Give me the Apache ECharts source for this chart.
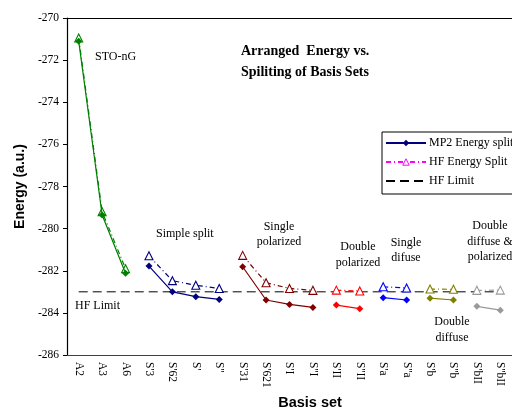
<!DOCTYPE html>
<html>
<head>
<meta charset="utf-8">
<script src="https://cdn.jsdelivr.net/npm/echarts@6/dist/echarts.min.js"></script>
<style>
	html, body { margin: 0; padding: 0; background: #fff; }
	#chart { width: 512px; height: 409px; }
</style>
</head>
<body>
<div id="chart"></div>
<script>
/* ---------------------------------------------
	Data
--------------------------------------------- */
const categories = ['A2', 'A3', 'A6', "S'3", "S'62", "S'", "S''", "S'31", "S'621", "S'I", "S''I",
	"S'II", "S''II", "S'a", "S''a", "S'b", "S''b", "S'bII", "S''bII"];
const groupStart = [0, 3, 7, 11, 13, 15, 17];
const groupColors = ['#008000', '#000080', '#800000', '#ff0000', '#0000ff', '#808000', '#999999'];
const mp2Values = [
	[-271.1, -279.35, -282.12],
	[-281.78, -283.0, -283.23, -283.36],
	[-281.81, -283.39, -283.6, -283.74],
	[-283.63, -283.8],
	[-283.28, -283.39],
	[-283.3, -283.39],
	[-283.69, -283.87],
];
const hfValues = [
	[-270.95, -279.2, -281.9],
	[-281.29, -282.47, -282.69, -282.84],
	[-281.27, -282.57, -282.84, -282.93],
	[-282.92, -282.96],
	[-282.76, -282.82],
	[-282.87, -282.88],
	[-282.93, -282.92],
];
const hfLimit = -283.0;
const yTicks = [-286, -284, -282, -280, -278, -276, -274, -272, -270];

const serif = '"Liberation Serif", "Times New Roman", serif';
const sans = '"Liberation Sans", Arial, sans-serif';
const hfDash = [5, 3, 1, 3];

/* ---------------------------------------------
	Series
--------------------------------------------- */
function pairs(start, values) {
	return values.map((v, i) => [categories[start + i], v]);
}

function buildSeries() {
	const series = [];
	// legend-only entries
	series.push({
		name: 'MP2 Energy split',
		type: 'line',
		data: [],
		symbol: 'diamond',
		symbolSize: 7,
		itemStyle: { color: '#000080' },
		lineStyle: { color: '#000080', width: 1.2 },
	});
	series.push({
		name: 'HF Energy Split',
		type: 'line',
		data: [],
		symbol: 'triangle',
		symbolSize: 8,
		itemStyle: { color: '#fff', borderColor: '#ff00ff', borderWidth: 1 },
		lineStyle: { color: '#ff00ff', width: 1.2, type: hfDash },
	});
	series.push({
		name: 'HF Limit',
		type: 'line',
		data: categories.map((c) => [c, hfLimit]),
		symbol: 'none',
		itemStyle: { color: '#000' },
		lineStyle: { color: '#000', width: 1, type: [9, 5] },
		z: 1,
	});

	groupStart.forEach((start, g) => {
		const color = groupColors[g];
		series.push({
			name: `hf${g}`,
			type: 'line',
			data: pairs(start, hfValues[g]),
			symbol: 'triangle',
			symbolSize: 8,
			itemStyle: { color: '#fff', borderColor: color, borderWidth: 1.1 },
			lineStyle: { color, width: 1.2, type: hfDash },
			z: 3,
		});
		series.push({
			name: `mp2${g}`,
			type: 'line',
			data: pairs(start, mp2Values[g]),
			symbol: 'diamond',
			symbolSize: 7,
			itemStyle: { color },
			lineStyle: { color, width: 1.2 },
			z: 4,
		});
	});
	return series;
}

/* ---------------------------------------------
	Annotations
--------------------------------------------- */
function note(text, x, y, align) {
	return {
		type: 'text',
		z: 10,
		style: {
			text,
			x,
			y,
			fill: '#000',
			font: `12px ${serif}`,
			lineHeight: 15.5,
			align: align || 'center',
			verticalAlign: 'middle',
		},
	};
}

/* ---------------------------------------------
	Chart
--------------------------------------------- */
function initChart() {
	const chart = echarts.init(document.getElementById('chart'));
	const option = {
		animation: false,
		backgroundColor: '#fff',
		grid: { left: 67, top: 18, right: -10, bottom: 54 },
		title: {
			text: 'Arranged  Energy vs.\nSpiliting of Basis Sets',
			left: 241,
			top: 41,
			padding: 0,
			textStyle: { fontFamily: serif, fontWeight: 'bold', fontSize: 14, lineHeight: 21, color: '#000' },
		},
		legend: {
			data: [
				{ name: 'MP2 Energy split' },
				{
					name: 'HF Energy Split',
					itemStyle: { color: '#fff', borderColor: '#ff00ff', borderWidth: 1 },
				},
				{ name: 'HF Limit', itemStyle: { opacity: 0 } },
			],
			orient: 'vertical',
			left: 382,
			top: 132,
			itemWidth: 40,
			itemHeight: 8,
			itemGap: 7,
			padding: [5, 6, 7, 3],
			borderColor: '#000',
			borderWidth: 1,
			borderRadius: 0,
			backgroundColor: '#fff',
			selectedMode: false,
			textStyle: { fontFamily: serif, fontSize: 12, color: '#000', padding: [0, 0, 0, -2] },
		},
		xAxis: [
			{
				type: 'category',
				data: categories,
				position: 'bottom',
				axisLine: { lineStyle: { color: '#404040', width: 1.2 } },
				axisTick: { show: false },
				axisLabel: {
					interval: 0,
					rotate: -90,
					margin: 7,
					fontFamily: serif,
					fontSize: 11.5,
					color: '#000',
				},
			},
			{
				type: 'category',
				data: categories,
				position: 'top',
				axisLine: { lineStyle: { color: '#000', width: 1.2 } },
				axisTick: { inside: true, length: 4, lineStyle: { color: '#555' } },
				axisLabel: { show: false },
			},
		],
		yAxis: {
			type: 'value',
			min: yTicks[0],
			max: yTicks[yTicks.length - 1],
			interval: 2,
			name: 'Energy (a.u.)',
			nameLocation: 'middle',
			nameGap: 40,
			nameTextStyle: { fontFamily: sans, fontWeight: 'bold', fontSize: 14, color: '#000' },
			axisLine: { show: true, lineStyle: { color: '#000', width: 1.2 } },
			axisTick: { show: true, length: 4, lineStyle: { color: '#000' } },
			splitLine: { show: false },
			axisLabel: { margin: 8, fontFamily: serif, fontSize: 11.5, color: '#000' },
		},
		graphic: [
			{
				type: 'text',
				z: 10,
				style: {
					text: 'Basis set',
					x: 310,
					y: 403,
					fill: '#000',
					font: `bold 14.5px ${sans}`,
					align: 'center',
					verticalAlign: 'middle',
				},
			},
			note('STO-nG', 95, 57, 'left'),
			note('Simple split', 156, 234, 'left'),
			note('Single\npolarized', 279, 234.5),
			note('Double\npolarized', 358, 255),
			note('Single\ndifuse', 406, 250.5),
			note('Double\ndiffuse &\npolarized', 490, 241.7),
			note('Double\ndiffuse', 452, 330),
			note('HF Limit', 75, 306, 'left'),
		],
		series: buildSeries(),
	};
	chart.setOption(option);
}

initChart();
</script>
</body>
</html>
